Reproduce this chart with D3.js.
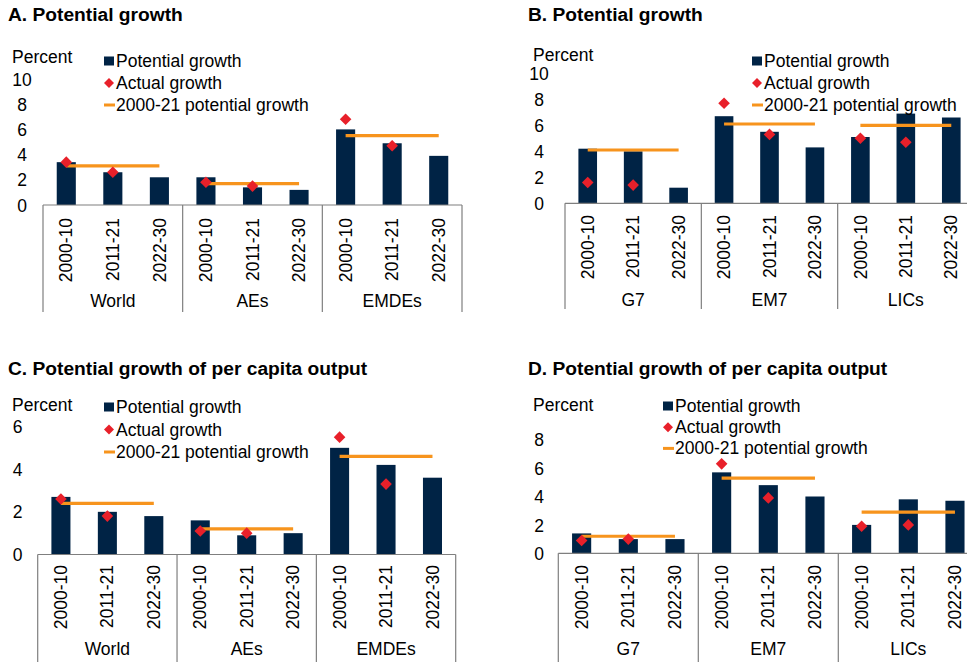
<!DOCTYPE html>
<html>
<head>
<meta charset="utf-8">
<script src="https://cdn.jsdelivr.net/npm/d3@7"></script>
<style>
  html, body { margin: 0; padding: 0; background: #fff; }
  svg { display: block; font-family: "Liberation Sans", Arial, Helvetica, sans-serif; }
</style>
</head>
<body>
<svg id="chart" width="967" height="662"></svg>
<script>
// Periods within each country group
const periods = ["2000-10", "2011-21", "2022-30"];

// Panel A: potential growth, World / AEs / EMDEs
const groupsA = ["World", "AEs", "EMDEs"];
const potentialA = [3.4, 2.6, 2.2, 2.2, 1.4, 1.2, 6.0, 4.9, 3.9];
const actualA = [3.4, 2.6, null, 1.8, 1.5, null, 6.8, 4.7, null];
const avgA = [3.1, 1.7, 5.5];
const ticksA = [0, 2, 4, 6, 8, 10];

// Panel B: potential growth, G7 / EM7 / LICs
const groupsB = ["G7", "EM7", "LICs"];
const potentialB = [4.2, 4.0, 1.2, 6.7, 5.5, 4.3, 5.1, 6.9, 6.6];
const actualB = [1.6, 1.4, null, 7.7, 5.3, null, 5.0, 4.7, null];
const avgB = [4.1, 6.1, 6.0];
const ticksB = [0, 2, 4, 6, 8, 10];

// Panel C: potential growth of per capita output, World / AEs / EMDEs
const groupsC = ["World", "AEs", "EMDEs"];
const potentialC = [2.7, 2.0, 1.8, 1.6, 0.9, 1.0, 5.0, 4.2, 3.6];
const actualC = [2.6, 1.8, null, 1.1, 1.0, null, 5.5, 3.3, null];
const avgC = [2.4, 1.2, 4.6];
const ticksC = [0, 2, 4, 6];

// Panel D: potential growth of per capita output, G7 / EM7 / LICs
const groupsD = ["G7", "EM7", "LICs"];
const potentialD = [1.4, 1.0, 1.0, 5.7, 4.8, 4.0, 2.0, 3.8, 3.7];
const actualD = [0.9, 1.0, null, 6.3, 3.9, null, 1.9, 2.0, null];
const avgD = [1.2, 5.3, 2.9];
const ticksD = [0, 2, 4, 6, 8];

const legendLabels = ["Potential growth", "Actual growth", "2000-21 potential growth"];

const COLORS = { bar: "#002345", diamond: "#E8202A", line: "#F7941D", axis: "#7f7f7f", text: "#000" };

const svg = d3.select("#chart");

function diamond(r) {
  return `M0,${-r}L${r},0L0,${r}L${-r},0Z`;
}

function drawPanel(p) {
  const g = svg.append("g");
  const cats = [];
  p.groups.forEach(gr => periods.forEach(pe => cats.push(gr + "|" + pe)));

  const x = d3.scaleBand().domain(cats).range([p.x0, p.x1]).paddingInner(0.59).paddingOuter(0.295);
  const y = d3.scaleLinear().domain([0, p.yMax]).range([p.y0, p.yTop]);
  const cx = c => x(c) + x.bandwidth() / 2;

  // Title
  g.append("text").attr("x", p.titleX).attr("y", p.titleY)
    .attr("font-size", 19.2).attr("font-weight", "bold").attr("fill", COLORS.text)
    .text(p.title);

  // Unit label
  g.append("text").attr("x", p.unitX).attr("y", p.unitY)
    .attr("font-size", 17.5).attr("fill", COLORS.text).attr("dominant-baseline", "central")
    .text("Percent");

  // Y tick labels (no axis line)
  const yAxis = d3.axisLeft(y).tickValues(p.ticks).tickSize(0).tickFormat(d3.format("d"));
  const ya = g.append("g").attr("transform", `translate(${p.tickX},0)`).call(yAxis);
  ya.select(".domain").remove();
  ya.selectAll("text").attr("font-size", 17.5).attr("fill", COLORS.text)
    .attr("font-family", "'Liberation Sans', Arial, sans-serif")
    .attr("text-anchor", "middle").attr("x", 0).attr("dy", "0.35em");

  // Bars
  g.selectAll("rect.bar").data(cats).join("rect")
    .attr("class", "bar")
    .attr("x", d => x(d)).attr("width", x.bandwidth())
    .attr("y", (d, i) => y(p.potential[i]))
    .attr("height", (d, i) => y(0) - y(p.potential[i]))
    .attr("fill", COLORS.bar);

  // Category axis: baseline, group separators, labels
  const groupW = (p.x1 - p.x0) / p.groups.length;
  g.append("line").attr("x1", p.x0).attr("x2", p.x1).attr("y1", y(0)).attr("y2", y(0))
    .attr("stroke", COLORS.axis).attr("stroke-width", 1.2);
  d3.range(p.groups.length + 1).forEach(i => {
    g.append("line")
      .attr("x1", p.x0 + i * groupW).attr("x2", p.x0 + i * groupW)
      .attr("y1", y(0)).attr("y2", p.sepBottom)
      .attr("stroke", COLORS.axis).attr("stroke-width", 1.2);
  });

  g.selectAll("text.period").data(cats).join("text")
    .attr("class", "period")
    .attr("transform", d => `translate(${cx(d)},${p.periodTop}) rotate(-90)`)
    .attr("text-anchor", "end").attr("dy", "0.35em")
    .attr("font-size", 17.5).attr("fill", COLORS.text)
    .text(d => d.split("|")[1]);

  g.selectAll("text.grp").data(p.groups).join("text")
    .attr("class", "grp")
    .attr("x", (d, i) => p.x0 + (i + 0.5) * groupW)
    .attr("y", p.groupY).attr("dominant-baseline", "central")
    .attr("text-anchor", "middle").attr("font-size", 17.5).attr("fill", COLORS.text)
    .text(d => d);

  // 2000-21 average lines, spanning each group's first to last period
  p.groups.forEach((gr, i) => {
    g.append("line")
      .attr("x1", cx(gr + "|" + periods[0])).attr("x2", cx(gr + "|" + periods[2]))
      .attr("y1", y(p.avg[i])).attr("y2", y(p.avg[i]))
      .attr("stroke", COLORS.line).attr("stroke-width", 3.2);
  });

  // Actual growth diamonds
  g.selectAll("path.act").data(cats.filter((d, i) => p.actual[i] != null)).join("path")
    .attr("class", "act")
    .attr("transform", d => `translate(${cx(d)},${y(p.actual[cats.indexOf(d)])})`)
    .attr("d", diamond(5.8))
    .attr("fill", COLORS.diamond);

  // Legend
  const lg = g.append("g");
  legendLabels.forEach((lab, i) => {
    const ry = p.legY + i * p.legStep;
    if (i === 0) {
      lg.append("rect").attr("x", p.legX).attr("y", ry - 4.5).attr("width", 10).attr("height", 9).attr("fill", COLORS.bar);
    } else if (i === 1) {
      lg.append("path").attr("transform", `translate(${p.legX + 5},${ry})`).attr("d", diamond(5)).attr("fill", COLORS.diamond);
    } else {
      lg.append("line").attr("x1", p.legX).attr("x2", p.legX + 11).attr("y1", ry).attr("y2", ry)
        .attr("stroke", COLORS.line).attr("stroke-width", 3);
    }
    lg.append("text").attr("x", p.legX + 12).attr("y", ry).attr("dominant-baseline", "central")
      .attr("font-size", 17.5).attr("fill", COLORS.text).text(lab);
  });
}

drawPanel({
  title: "A. Potential growth", titleX: 8, titleY: 21,
  groups: groupsA, potential: potentialA, actual: actualA, avg: avgA, ticks: ticksA, yMax: 10,
  x0: 43, x1: 462, y0: 205, yTop: 79,
  unitX: 12, unitY: 57, tickX: 22,
  periodTop: 218, groupY: 301, sepBottom: 312,
  legX: 104, legY: 61, legStep: 22
});

drawPanel({
  title: "B. Potential growth", titleX: 528, titleY: 21,
  groups: groupsB, potential: potentialB, actual: actualB, avg: avgB, ticks: ticksB, yMax: 10,
  x0: 565, x1: 974, y0: 203.3, yTop: 73.3,
  unitX: 533, unitY: 55, tickX: 539,
  periodTop: 215, groupY: 300, sepBottom: 309,
  legX: 752, legY: 61, legStep: 22
});

drawPanel({
  title: "C. Potential growth of per capita output", titleX: 8, titleY: 375,
  groups: groupsC, potential: potentialC, actual: actualC, avg: avgC, ticks: ticksC, yMax: 6,
  x0: 37.7, x1: 455.7, y0: 554.5, yTop: 426.5,
  unitX: 12, unitY: 405, tickX: 17.5,
  periodTop: 565, groupY: 649, sepBottom: 662,
  legX: 104, legY: 407, legStep: 22.5
});

drawPanel({
  title: "D. Potential growth of per capita output", titleX: 528, titleY: 375,
  groups: groupsD, potential: potentialD, actual: actualD, avg: avgD, ticks: ticksD, yMax: 8,
  x0: 558.3, x1: 978.3, y0: 553.3, yTop: 439.7,
  unitX: 533, unitY: 405, tickX: 539,
  periodTop: 565, groupY: 649, sepBottom: 662,
  legX: 663, legY: 406, legStep: 21.2
});
</script>
</body>
</html>
